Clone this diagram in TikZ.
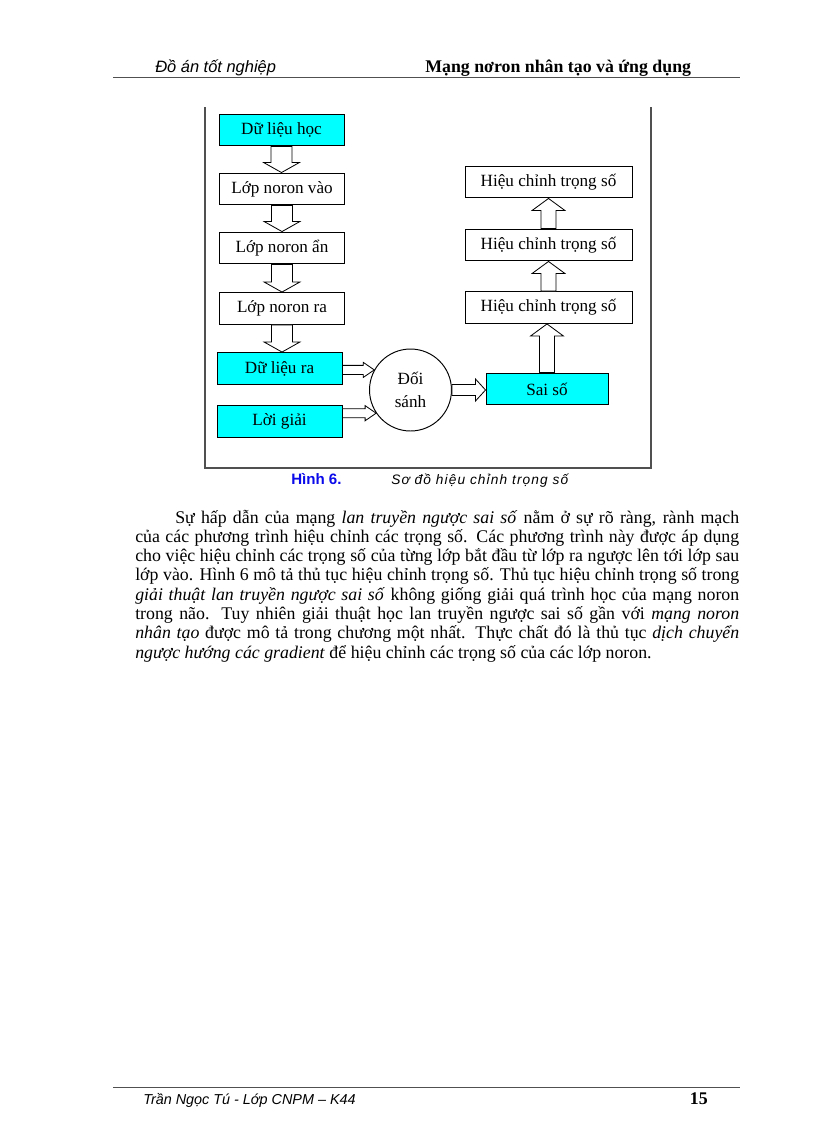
\documentclass[tikz,border=0pt]{standalone}
\usepackage{fontspec}
\setmainfont{Liberation Serif}
\newfontfamily\arialfont{Liberation Sans}
\usepackage{xcolor}
\usetikzlibrary{calc}

\definecolor{boxcyan}{RGB}{0,255,255}
\definecolor{capblue}{RGB}{10,10,235}
\definecolor{rulegray}{RGB}{80,80,80}

% hollow block arrow: from, to, shaft half width, head half width, head length
\newcommand{\blockarrow}[5]{%
  \path (#1) coordinate (ba-s) (#2) coordinate (ba-t);
  \path ($(ba-t)!#5!(ba-s)$) coordinate (ba-h);
  \draw[blockline] ($(ba-s)!#3!90:(ba-t)$) -- ($(ba-h)!#3!90:(ba-t)$)
    -- ($(ba-h)!#4!90:(ba-t)$) -- (ba-t) -- ($(ba-h)!#4!-90:(ba-t)$)
    -- ($(ba-h)!#3!-90:(ba-t)$) -- ($(ba-s)!#3!-90:(ba-t)$) -- cycle;
}

\begin{document}
\begin{tikzpicture}[x=0.7295pt, y=-0.7295pt,
    box/.style={draw, line width=0.7pt, minimum width=91.2pt, minimum height=23.3pt,
      inner sep=0pt, font=\fontsize{12.5}{17}\selectfont},
    data/.style={box, fill=boxcyan},
    wide/.style={box, minimum width=121.8pt},
    blockline/.style={draw, fill=white, line width=0.6pt, line join=miter},
    rule/.style={rulegray, line width=0.6pt},
    bodytext/.style={anchor=base west, inner sep=0pt, font=\fontsize{13}{15}\selectfont}]
        \fill[white] (0,0) rectangle (816,1123);
        \useasboundingbox (0,0) rectangle (816,1123);

        % header
        \node[anchor=base west, inner sep=0pt, font=\arialfont\itshape\fontsize{12}{14}\selectfont] (hleft) at (155,72) {Đồ án tốt nghiệp};
        \node[anchor=base west, inner sep=0pt, font=\bfseries\fontsize{13}{15}\selectfont] (hright) at (425,72) {Mạng nơron nhân tạo và ứng dụng};
        \draw[rule] (113,77) -- (740,77);

        % frame of the figure
        \draw[rulegray, line width=1.1pt] (205,107) -- (205,468) -- (651,468) -- (651,107);

        % left column
        \node[data] (dlh) at (281.5,130) {Dữ liệu học};
        \node[box] (lnv) at (282,189) {Lớp noron vào};
        \node[box] (lna) at (282,248) {Lớp noron ẩn};
        \node[box] (lnr) at (282,308.5) {Lớp noron ra};
        \node[data] (dlr) at (279.5,368.5) {Dữ liệu ra};
        \node[data] (lg) at (279.5,421.5) {Lời giải};

        % comparison and weight correction
        \node[draw, circle, line width=0.7pt, minimum size=59.8pt, inner sep=0pt, align=center,
          font=\fontsize{12.5}{17}\selectfont] (doi) at (410.5,390) {Đối\\sánh};
        \node[data, minimum width=89pt] (sai) at (547,389) {Sai số};
        \node[wide] (hc3) at (548.5,307.5) {Hiệu chỉnh trọng số};
        \node[wide] (hc2) at (548.5,245) {Hiệu chỉnh trọng số};
        \node[wide] (hc1) at (548.5,182) {Hiệu chỉnh trọng số};

        \foreach \a/\b in {dlh/lnv, lnv/lna, lna/lnr, lnr/dlr}
          {\blockarrow{\a.south}{\a.south |- \b.north}{7.7pt}{13pt}{7.3pt}}
        \foreach \a/\b in {sai/hc3, hc3/hc2, hc2/hc1}
          {\blockarrow{\a.north}{\a.north |- \b.south}{5.5pt}{12pt}{8.8pt}}
        \blockarrow{dlr.east |- doi.151}{doi.151}{3.3pt}{5.5pt}{8pt}
        \blockarrow{lg.east |- doi.214}{doi.214}{3.3pt}{5.5pt}{8pt}
        \blockarrow{doi.east}{doi.east -| sai.west}{4pt}{8pt}{7.3pt}

        % caption
        \node[anchor=base west, inner sep=0pt, text=capblue, font=\arialfont\bfseries\fontsize{11}{13}\selectfont] (capnum) at (291,484) {Hình 6.};
        \node[anchor=base west, inner sep=0pt, font=\arialfont\itshape\fontsize{10}{12}\selectfont\addfontfeatures{LetterSpace=8}] (captext) at (391,484) {Sơ đồ hiệu chỉnh trọng số};

        % paragraph
        \node[bodytext] (line0) at (175,523) {\makebox[411.4pt][s]{Sự hấp dẫn của mạng \textit{lan truyền ngược sai số} nằm ở sự rõ ràng, rành mạch}};
        \foreach \txt [count=\i] in {
          {của các phương trình hiệu chỉnh các trọng số. Các phương trình này được áp dụng},
          {cho việc hiệu chỉnh các trọng số của từng lớp bắt đầu từ lớp ra ngược lên tới lớp sau},
          {lớp vào. Hình 6 mô tả thủ tục hiệu chỉnh trọng số. Thủ tục hiệu chỉnh trọng số trong},
          {\textit{giải thuật lan truyền ngược sai số} không giống giải quá trình học của mạng noron},
          {trong não. Tuy nhiên giải thuật học lan truyền ngược sai số gần với \textit{mạng noron}},
          {\textit{nhân tạo} được mô tả trong chương một nhất. Thực chất đó là thủ tục \textit{dịch chuyển}}}
        \node[bodytext] (line\i) at (135,523+\i*19.3) {\makebox[440.6pt][s]{\txt}};
        \node[bodytext] (line7) at (135,658.1) {\textit{ngược hướng các gradient} để hiệu chỉnh các trọng số của các lớp noron.};

        % footer
        \draw[rule] (113,1087) -- (740,1087);
        \node[anchor=base west, inner sep=0pt, font=\arialfont\itshape\fontsize{10.5}{13}\selectfont] (fleft) at (143,1104) {Trần Ngọc Tú - Lớp CNPM – K44};
        \node[anchor=base east, inner sep=0pt, font=\bfseries\fontsize{13}{15}\selectfont] (fpage) at (708,1104) {15};
      \end{tikzpicture}
\end{document}
